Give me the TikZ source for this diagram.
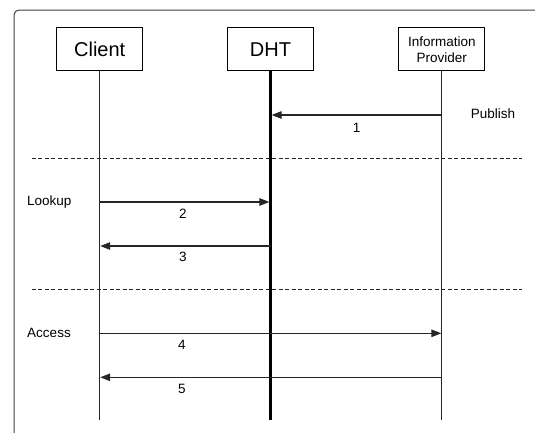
\documentclass[tikz,border=0pt]{standalone}
\usepackage{fontspec}
\setmainfont{Liberation Sans}
\usetikzlibrary{arrows.meta}
\begin{document}
\begin{tikzpicture}[x=1pt,y=-1pt,
  actor/.style={draw=black,line width=1pt,minimum width=86pt,minimum height=43pt,inner sep=0pt,font=\fontsize{20}{22}\selectfont},
  smalltxt/.style={font=\fontsize{13.5}{16}\selectfont,inner sep=0pt},
  life/.style={draw=black!85,line width=1pt},
  msg/.style={draw=black!85,line width=1.1pt,-{Triangle[length=10pt,width=7.5pt]}},
  sep/.style={draw=black!85,line width=0.9pt,dash pattern=on 4pt off 2.5pt}]
\useasboundingbox (0,0) rectangle (535,432);
\clip (0,0) rectangle (535,432);
\draw[draw=black!75,line width=1pt,rounded corners=5pt] (14,10) rectangle (560,460);
% actors
\node[actor] (client) at (99.7,49.2) {Client};
\node[actor] (dht) at (270.5,49.2) {DHT};
\node[actor,font=\fontsize{13.5}{16}\selectfont,align=center] (ip) at (441.8,49.2) {Information\\Provider};
% lifeline ends
\coordinate (clientend) at (99.7,420);
\coordinate (dhtend) at (270.5,420);
\coordinate (ipend) at (441.8,420);
\draw[life] (client.south) -- (clientend);
\draw[draw=black,line width=2.2pt] (dht.south) -- (dhtend);
\draw[life] (ip.south) -- (ipend);
% message anchor points
\coordinate (ip1) at (441.8,115);
\coordinate (d1) at (271.6,115);
\coordinate (c2) at (99.7,202);
\coordinate (d2) at (269.4,202);
\coordinate (d3) at (270.5,246);
\coordinate (c3) at (100.2,246);
\coordinate (c4) at (99.7,333.3);
\coordinate (ip4) at (441.3,333.3);
\coordinate (ip5) at (441.8,377.3);
\coordinate (c5) at (100.2,377.3);
% separators
\coordinate (s1a) at (31.7,158.3);
\coordinate (s1b) at (522,158.3);
\coordinate (s2a) at (31.7,289.3);
\coordinate (s2b) at (522,289.3);
\draw[sep] (s1a) -- (s1b);
\draw[sep] (s2a) -- (s2b);
% messages
\draw[msg] (ip1) -- (d1);
\draw[msg] (c2) -- (d2);
\draw[msg] (d3) -- (c3);
\draw[msg] (c4) -- (ip4);
\draw[msg] (ip5) -- (c5);
% labels
\node[smalltxt] (l1) at (356.5,127.7) {1};
\node[smalltxt] (l2) at (183,213.3) {2};
\node[smalltxt] (l3) at (183,257.3) {3};
\node[smalltxt] (l4) at (182,344.5) {4};
\node[smalltxt] (l5) at (182,388.7) {5};
\node[smalltxt] (pub) at (493,114) {Publish};
\node[smalltxt] (look) at (49.3,202.5) {Lookup};
\node[smalltxt] (acc) at (49,333) {Access};
\end{tikzpicture}
\end{document}
